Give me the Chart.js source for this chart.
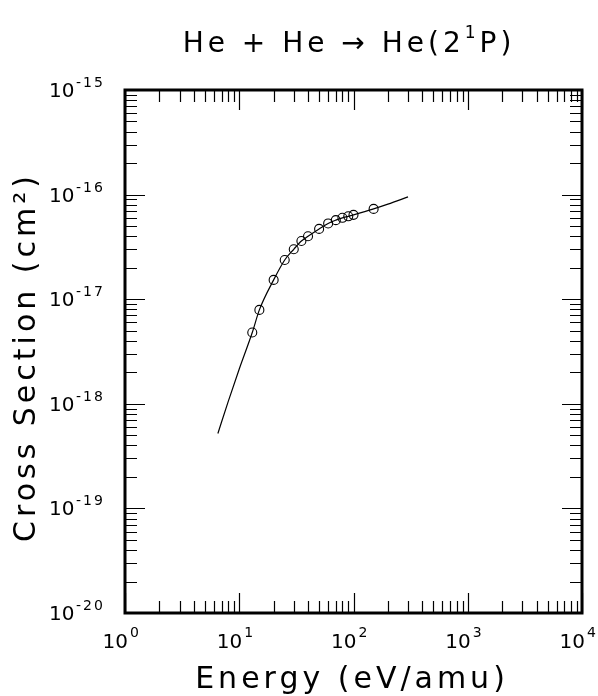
<!DOCTYPE html>
<html>
<head>
<meta charset="utf-8">
<script src="https://cdn.jsdelivr.net/npm/chart.js@4.4.1/dist/chart.umd.min.js"></script>
<style>
html,body{margin:0;padding:0;background:#fff;}
canvas{display:block;}
</style>
</head>
<body>
<canvas id="c" width="598" height="696"></canvas>
<script>
// ---- data ----
const titleMain = "He + He \u2192 He(2";
const titleSup = "1";
const titleEnd = "P)";
const xAxisTitle = "Energy (eV/amu)";
const yAxisTitle = "Cross Section (cm\u00B2)";

const measEnergy = [13, 15, 20, 25, 30, 35, 40, 50, 60, 70, 80, 90, 100, 150];
const measSigma  = [4.8e-18, 7.9e-18, 1.53e-17, 2.37e-17, 3.0e-17, 3.6e-17, 4.0e-17, 4.7e-17, 5.3e-17, 5.7e-17, 6.0e-17, 6.2e-17, 6.4e-17, 7.3e-17];

const fitEnergy = [6.5, 8, 10, 13, 15, 20, 25, 30, 35, 40, 50, 60, 70, 80, 90, 100, 150, 200, 300];
const fitSigma  = [5.2e-19, 1.05e-18, 2.15e-18, 4.8e-18, 7.9e-18, 1.53e-17, 2.37e-17, 3.0e-17, 3.6e-17, 4.0e-17, 4.7e-17, 5.3e-17, 5.7e-17, 6.0e-17, 6.2e-17, 6.4e-17, 7.3e-17, 8.1e-17, 9.5e-17];

const xDecadeExp = [0, 1, 2, 3, 4];
const yDecadeExp = [-20, -19, -18, -17, -16, -15];

const FONT = "'DejaVu Sans'";

function pts(xs, ys){ return xs.map((x,i)=>({x:x, y:ys[i]})); }

const framePlugin = {
  id: 'frame',
  afterDraw(chart){
    const ctx = chart.ctx, a = chart.chartArea;
    const xs = chart.scales.x, ys = chart.scales.y;
    ctx.save();
    ctx.strokeStyle = '#000';
    ctx.fillStyle = '#000';
    // ticks
    ctx.lineWidth = 1.2;
    ctx.beginPath();
    for (let e = xDecadeExp[0]; e <= xDecadeExp[xDecadeExp.length-1]; e++){
      for (let m = 1; m <= 9; m++){
        if (e === xDecadeExp[xDecadeExp.length-1] && m > 1) break;
        const v = m * Math.pow(10, e);
        const px = Math.round(xs.getPixelForValue(v)) + 0.5;
        const len = (m === 1) ? 20 : 12;
        ctx.moveTo(px, a.bottom); ctx.lineTo(px, a.bottom - len);
        ctx.moveTo(px, a.top); ctx.lineTo(px, a.top + len);
      }
    }
    for (let e = yDecadeExp[0]; e <= yDecadeExp[yDecadeExp.length-1]; e++){
      for (let m = 1; m <= 9; m++){
        if (e === yDecadeExp[yDecadeExp.length-1] && m > 1) break;
        const v = m * Math.pow(10, e);
        const py = Math.round(ys.getPixelForValue(v)) + 0.5;
        const len = (m === 1) ? 20 : 12;
        ctx.moveTo(a.left, py); ctx.lineTo(a.left + len, py);
        ctx.moveTo(a.right, py); ctx.lineTo(a.right - len, py);
      }
    }
    ctx.stroke();
    // frame
    ctx.lineWidth = 3;
    ctx.strokeRect(a.left, a.top, a.right - a.left, a.bottom - a.top);

    // tick labels
    ctx.letterSpacing = '0px';
    ctx.textBaseline = 'alphabetic';
    xDecadeExp.forEach(e => {
      const px = xs.getPixelForValue(Math.pow(10, e));
      ctx.font = "20px " + FONT;
      ctx.textAlign = 'right';
      ctx.fillText("10", px + 3, 648);
      ctx.font = "14px " + FONT;
      ctx.textAlign = 'left';
      ctx.fillText(String(e), px + 5, 637);
    });
    yDecadeExp.forEach(e => {
      const py = ys.getPixelForValue(Math.pow(10, e));
      ctx.font = "20px " + FONT;
      ctx.textAlign = 'left';
      ctx.letterSpacing = '0px';
      ctx.fillText("10", 49, py + 7);
      ctx.font = "14px " + FONT;
      ctx.letterSpacing = '2px';
      ctx.fillText("-" + String(-e), 76, py - 3);
    });

    // title
    ctx.letterSpacing = '4px';
    ctx.font = "28px " + FONT;
    ctx.textAlign = 'left';
    const w1 = ctx.measureText(titleMain).width;
    ctx.font = "17px " + FONT;
    const w2 = ctx.measureText(titleSup).width;
    ctx.font = "28px " + FONT;
    const w3 = ctx.measureText(titleEnd).width;
    let tx = 349 - (w1 + w2 + w3) / 2;
    ctx.fillText(titleMain, tx, 52);
    ctx.font = "17px " + FONT;
    ctx.fillText(titleSup, tx + w1, 38);
    ctx.font = "28px " + FONT;
    ctx.fillText(titleEnd, tx + w1 + w2, 52);

    // axis titles
    ctx.letterSpacing = '4px';
    ctx.font = "30px " + FONT;
    ctx.textAlign = 'center';
    ctx.fillText(xAxisTitle, 352, 688);
    ctx.translate(35, 357);
    ctx.rotate(-Math.PI / 2);
    ctx.fillText(yAxisTitle, 0, 0);
    ctx.restore();
  }
};

new Chart(document.getElementById('c'), {
  type: 'scatter',
  data: {
    datasets: [
      {
        label: 'fit',
        data: pts(fitEnergy, fitSigma),
        showLine: true,
        borderColor: '#000',
        borderWidth: 1.2,
        pointRadius: 0,
        cubicInterpolationMode: 'monotone',
        fill: false
      },
      {
        label: 'measured',
        data: pts(measEnergy, measSigma),
        showLine: false,
        borderColor: '#000',
        backgroundColor: 'rgba(0,0,0,0)',
        borderWidth: 1.1,
        pointRadius: 4.5,
        pointStyle: 'circle'
      }
    ]
  },
  options: {
    responsive: false,
    animation: false,
    devicePixelRatio: 1,
    layout: { padding: { left: 125, top: 90, right: 16, bottom: 83 } },
    plugins: { legend: { display: false }, tooltip: { enabled: false }, title: { display: false } },
    scales: {
      x: { type: 'logarithmic', min: 1, max: 1e4, display: false },
      y: { type: 'logarithmic', min: 1e-20, max: 1e-15, display: false }
    }
  },
  plugins: [framePlugin]
});
</script>
</body>
</html>
